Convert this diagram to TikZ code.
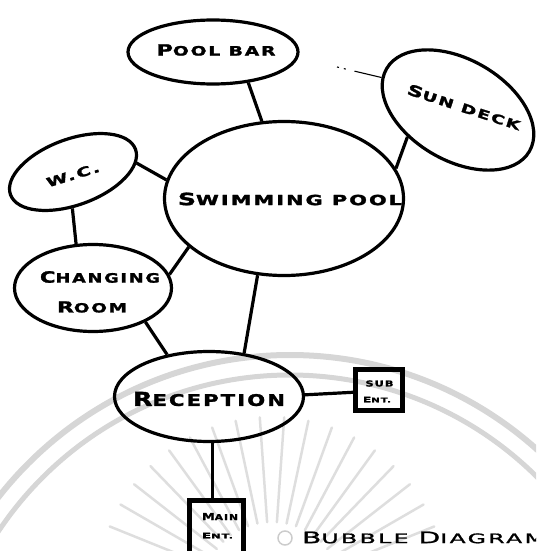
\documentclass[tikz,border=0pt]{standalone}
\usepackage{fontspec}
\usepackage{graphicx}
\usetikzlibrary{shapes.geometric}

% hand-lettering look: wide heavy caps, bigger initial letters
\newfontfamily\letr[LetterSpace=10, BoldFeatures={FakeBold=1.6}]{DejaVu Sans}
\newfontfamily\letrt[LetterSpace=10, FakeBold=1.2]{DejaVu Sans}
\newcommand\Bg[1]{{\fontsize{12}{12}\selectfont #1}}
\newcommand\fit[3]{\resizebox{#1}{#2}{\letr\bfseries\fontsize{10}{10}\selectfont #3}}
\newcommand\fitr[3]{\resizebox{#1}{#2}{\letrt\fontsize{10}{10}\selectfont #3}}

\begin{document}
\begin{tikzpicture}[x=1pt,y=-1pt,
  bubble/.style={draw=black, line width=3.2pt, ellipse, inner sep=0pt},
  link/.style={draw=black, line width=3.2pt},
  entbox/.style={draw=black, line width=4.8pt, rectangle, inner sep=0pt},
  txt/.style={inner sep=0pt, outer sep=0pt},
  wm/.style={draw=black!16, line width=6pt},
  ray/.style={draw=black!13, line width=2.5pt, line cap=round}]

\useasboundingbox (0,0) rectangle (536,551);
\clip (0,0) rectangle (536,551);

% faint emblem in the background
\draw[wm] (290,725) circle[radius=370pt];
\draw[wm, line width=5pt] (290,725) circle[radius=350pt];
\coordinate (sun) at (272,592);
\foreach \a in {22,30,...,158}
  \draw[ray] (sun) ++(\a:70pt) -- ++(\a:105pt);
\draw[draw=black!20, line width=1.5pt] (285,538) circle[radius=7pt];

% bubbles
\node[bubble, minimum width=170pt, minimum height=64pt] (pb) at (213,52) {};
\node[bubble, minimum width=239pt, minimum height=154pt] (sp) at (284,198.5) {};
\node[bubble, minimum width=165pt, minimum height=101pt, rotate=-30] (sd) at (458,110) {};
\node[bubble, minimum width=133pt, minimum height=66pt, rotate=20] (wc) at (73,172) {};
\node[bubble, minimum width=157pt, minimum height=87pt] (cr) at (93,288) {};
\node[bubble, minimum width=189pt, minimum height=90pt] (rc) at (209,396.5) {};

% entrances
\node[entbox, minimum width=47.5pt, minimum height=41.5pt] (sb) at (379,390) {};
\node[entbox, minimum width=54.5pt, minimum height=53.5pt] (me) at (216.5,527) {};

% labels
\node[txt] (pbt) at (216,50) {\fit{119pt}{11.3pt}{\Bg{P}OOL BAR}};
\node[txt] (spt) at (290,199) {\fit{224pt}{12.5pt}{\Bg{S}WIMMING POOL}};
\node[txt, rotate=-18] (sdt) at (464,107) {\fit{118pt}{11pt}{\Bg{S}UN DECK}};
\node[txt, rotate=17] (wct) at (73,175) {\fit{55pt}{9.5pt}{W.C.}};
\node[txt] (crt1) at (100,277) {\fit{120pt}{11.5pt}{\Bg{C}HANGING}};
\node[txt] (crt2) at (92,307) {\fit{70pt}{11pt}{\Bg{R}OOM}};
\node[txt] (rct) at (209,399) {\fit{152pt}{14pt}{\Bg{R}ECEPTION}};
\node[txt] (sbt1) at (379.5,383.5) {\fit{28pt}{6pt}{SUB}};
\node[txt] (sbt2) at (377,399.5) {\fit{28pt}{5.5pt}{\Bg{E}NT.}};
\node[txt] (met1) at (220,516.5) {\fit{36pt}{7pt}{\Bg{M}AIN}};
\node[txt] (met2) at (217.5,535.5) {\fit{31pt}{5.5pt}{\Bg{E}NT.}};
\node[txt, anchor=west] (title) at (302,537.5) {\fitr{243pt}{11.5pt}{\Bg{B}UBBLE \Bg{D}IAGRAM}};

% connectors
\draw[link] (pb.-41) -- (sp.106.5);
\draw[link] (sd.238) -- (sp.15.7);
\draw[link] (wc.-12) -- (sp.171);
\draw[link] (wc.-111.4) -- (cr.111);
\draw[link] (cr.10.5) -- (sp.207.7);
\draw[link] (sp.251.7) -- (rc.51);
\draw[link] (cr.-33) -- (rc.135);
\draw[link] (rc.1) -- (sb.185);
\draw[link] (rc.-86) -- (rc.-86 |- me.north);

% short broken stroke beside the sun deck
\coordinate (stub) at (337,67);
\draw[line width=1.1pt, dash pattern=on 2pt off 5pt on 2pt off 9pt on 40pt] (stub) -- (sd.187);
\end{tikzpicture}
\end{document}
